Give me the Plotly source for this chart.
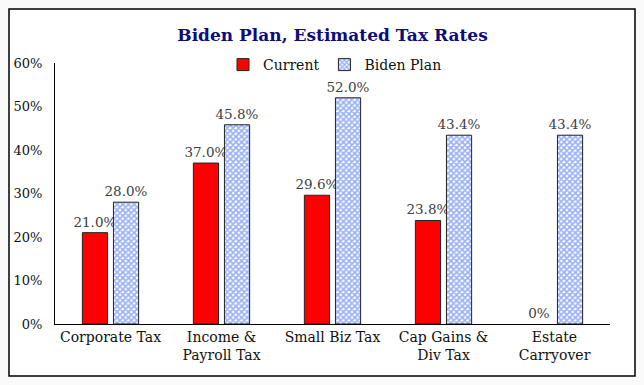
import plotly.graph_objects as go

categories = ["Corporate Tax", "Income &<br>Payroll Tax", "Small Biz Tax", "Cap Gains &<br>Div Tax", "Estate<br>Carryover"]
current = [21.0, 37.0, 29.6, 23.8, 0.0]
biden = [28.0, 45.8, 52.0, 43.4, 43.4]
tick_vals = [0, 10, 20, 30, 40, 50, 60]
tick_text = ["0%", "10%", "20%", "30%", "40%", "50%", "60%"]

def fmt(v):
    return f"{v:.1f}%" if v else "0%"

FONT = "Georgia, 'DejaVu Serif', serif"

fig = go.Figure()
fig.add_trace(go.Bar(
    x=categories, y=current, name="Current",
    marker=dict(color="#ff0000", line=dict(color="#222222", width=[1 if v else 0 for v in current])),
    text=[fmt(v) for v in current], textposition="outside",
    textfont=dict(family=FONT, size=13.5, color="#404040"),
    cliponaxis=False, constraintext="none",
))
fig.add_trace(go.Bar(
    x=categories, y=biden, name="Biden Plan",
    marker=dict(color="#ffffff", line=dict(color="#222222", width=1),
                pattern=dict(shape="x", fgcolor="#3060ee", bgcolor="#ffffff",
                             size=4, solidity=0.65, fillmode="overlay")),
    text=[fmt(v) for v in biden], textposition="outside",
    textfont=dict(family=FONT, size=13.5, color="#404040"),
    cliponaxis=False, constraintext="none",
))

W, H = 644, 385
L, R, T, B = 55, 34, 63, 61
pw, ph = W - L - R, H - T - B

def px_x(p):
    return (p - L) / pw

def px_y(p):
    return (H - B - p) / ph

fig.add_shape(type="rect", xref="paper", yref="paper",
              x0=px_x(9), x1=px_x(635), y0=px_y(376), y1=px_y(9),
              line=dict(color="#000000", width=1.5), fillcolor="#ffffff", layer="below")

fig.update_layout(
    width=W, height=H,
    margin=dict(l=L, r=R, t=T, b=B, autoexpand=False),
    paper_bgcolor="#fafafa", plot_bgcolor="rgba(0,0,0,0)",
    font=dict(family=FONT, size=14, color="#111111"),
    title=dict(text="<b>Biden Plan, Estimated Tax Rates</b>", x=0.5, xanchor="center",
               y=1 - 35 / H, yanchor="middle", xref="paper",
               font=dict(family=FONT, size=17, color="#0c0c7a")),
    barmode="group", bargap=0.44, bargroupgap=0.19,
    showlegend=True,
    legend=dict(orientation="h", x=px_x(335), xanchor="center", y=px_y(65), yanchor="middle",
                font=dict(family=FONT, size=14, color="#111111"), bgcolor="rgba(0,0,0,0)",
                itemwidth=30, tracegroupgap=0),
    xaxis=dict(showline=True, linecolor="#000000", linewidth=1, showgrid=False, automargin=False,
               ticks="", tickfont=dict(family=FONT, size=14, color="#111111")),
    yaxis=dict(range=[0, 60], tickvals=tick_vals, ticktext=tick_text, showline=True,
               linecolor="#000000", linewidth=1, showgrid=False, zeroline=False, automargin=False,
               ticks="", ticklabelstandoff=9,
               tickfont=dict(family=FONT, size=13, color="#111111")),
)

fig.write_html("out.html", config={"displayModeBar": False},
               post_script="document.body.style.margin='0px';")
